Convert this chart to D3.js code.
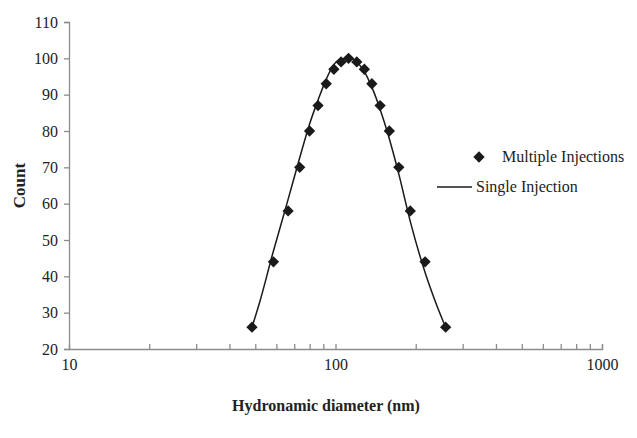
<!DOCTYPE html>
<html>
<head>
<meta charset="utf-8">
<script src="https://cdn.jsdelivr.net/npm/d3@7"></script>
<style>
  html, body { margin: 0; padding: 0; background: #fff; }
  svg { display: block; }
  text { font-family: "Liberation Serif", "DejaVu Serif", serif; fill: #222; }
</style>
</head>
<body>
<svg id="chart" width="637" height="438"></svg>
<script>
// Multiple injections: measured size distribution (diameter in nm, count)
const multiDiameter = [48.6, 58.5, 66.4, 73.4, 79.9, 86.0, 92.3, 98.6, 104.9, 111.9,
                       120.2, 128.3, 136.9, 147.0, 159.2, 172.8, 190.8, 216.8, 259];
const multiCount    = [26, 44, 58, 70, 80, 87, 93, 97, 99, 100,
                       99, 97, 93, 87, 80, 70, 58, 44, 26];

// Single injection: continuous distribution
const singleDiameter = [48.6, 52, 58, 66, 73, 80, 86, 92, 98, 105, 112,
                        120, 128, 137, 147, 159, 173, 191, 217, 240, 259];
const singleCount    = [26, 33, 46, 60.5, 72, 82, 88.5, 94, 98, 99.8, 100,
                        99, 96.5, 92, 86, 78, 68, 55, 41, 32, 26];

const xTicks = [10, 100, 1000];
const yTicks = [20, 30, 40, 50, 60, 70, 80, 90, 100, 110];
const seriesNames = ["Multiple Injections", "Single Injection"];
const xTitle = "Hydronamic diameter (nm)";
const yTitle = "Count";

const svg = d3.select("#chart");
const plot = { left: 69, right: 602, top: 22, bottom: 349 };
const axisColor = "#8c8c8c";
const tickFont = 16;

const x = d3.scaleLog().domain([10, 1000]).range([plot.left, plot.right]);
const y = d3.scaleLinear().domain([20, 110]).range([plot.bottom, plot.top]);

// Y axis: ticks point outward to the left
const yAxis = svg.append("g")
  .attr("transform", `translate(${plot.left},0)`)
  .call(d3.axisLeft(y).tickValues(yTicks).tickSize(5).tickPadding(6).tickFormat(d3.format("d")));
yAxis.select(".domain").attr("stroke", axisColor).attr("stroke-width", 1.3);
yAxis.selectAll(".tick line").attr("stroke", axisColor).attr("stroke-width", 1.3);
yAxis.selectAll(".tick text").attr("font-size", tickFont).style("font-family", "Liberation Serif, serif").attr("fill", "#222");

// X axis (log): all decade subdivisions drawn as upward ticks
const minorTicks = [];
[10, 100].forEach(dec => { for (let k = 2; k <= 10; k++) minorTicks.push(dec * k); });
const xAxis = svg.append("g")
  .attr("transform", `translate(0,${plot.bottom})`)
  .call(d3.axisBottom(x).tickValues(minorTicks).tickSize(-5).tickFormat(""));
xAxis.select(".domain").attr("stroke", axisColor).attr("stroke-width", 1.3);
xAxis.selectAll(".tick line").attr("stroke", axisColor).attr("stroke-width", 1.3);

const xLabels = svg.append("g")
  .attr("transform", `translate(0,${plot.bottom})`)
  .call(d3.axisBottom(x).tickValues(xTicks).tickSize(0).tickPadding(10).tickFormat(d3.format("d")));
xLabels.select(".domain").remove();
xLabels.selectAll(".tick text").attr("font-size", tickFont).style("font-family", "Liberation Serif, serif").attr("fill", "#222");

// Axis titles
svg.append("text")
  .attr("x", 326).attr("y", 411)
  .attr("text-anchor", "middle").attr("font-size", 16).attr("font-weight", "bold")
  .text(xTitle);
svg.append("text")
  .attr("transform", `translate(25,${(plot.top + plot.bottom) / 2}) rotate(-90)`)
  .attr("text-anchor", "middle").attr("font-size", 17).attr("font-weight", "bold")
  .text(yTitle);

// Single injection line
const line = d3.line()
  .x((d, i) => x(singleDiameter[i]))
  .y(d => y(d))
  .curve(d3.curveMonotoneX);
svg.append("path")
  .datum(singleCount)
  .attr("d", line)
  .attr("fill", "none").attr("stroke", "#1a1a1a").attr("stroke-width", 1.5);

// Multiple injection markers (diamonds = rotated squares)
const diamond = d3.symbol().type(d3.symbolSquare).size(64);
svg.append("g").selectAll("path")
  .data(multiCount)
  .join("path")
  .attr("d", diamond)
  .attr("transform", (d, i) => `translate(${x(multiDiameter[i])},${y(d)}) rotate(45)`)
  .attr("fill", "#1a1a1a");

// Legend
const legend = svg.append("g");
legend.append("path")
  .attr("d", diamond)
  .attr("transform", "translate(479,157) rotate(45)")
  .attr("fill", "#1a1a1a");
legend.append("text").attr("x", 502).attr("y", 162).attr("font-size", 16).text(seriesNames[0]);
legend.append("line")
  .attr("x1", 437).attr("x2", 472).attr("y1", 187).attr("y2", 187)
  .attr("stroke", "#1a1a1a").attr("stroke-width", 1.5);
legend.append("text").attr("x", 476).attr("y", 192).attr("font-size", 16).text(seriesNames[1]);
</script>
</body>
</html>
